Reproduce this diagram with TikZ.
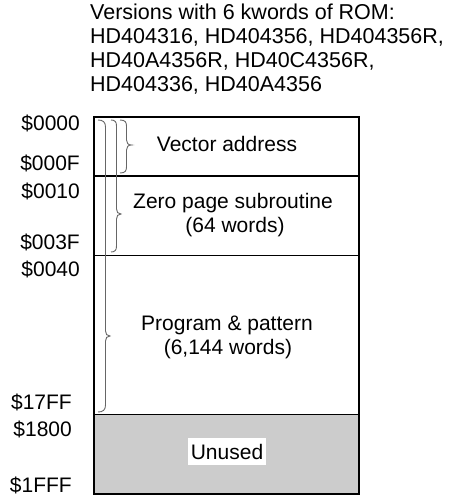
\documentclass[tikz,border=0pt]{standalone}
\usepackage{fontspec}
\setmainfont{Liberation Sans}
\begin{document}
\begin{tikzpicture}[x=1pt, y=-1pt,
  every node/.style={font=\fontsize{21}{24}\selectfont, inner sep=0pt},
  lbl/.style={anchor=base east},
  txt/.style={anchor=base},
  area/.style={draw=black, line width=1.2pt},
  brc/.style={draw=black!60, line width=0.9pt}]
  \useasboundingbox (0,0) rectangle (455,497);
  % header
  \foreach \t [count=\i] in {Versions with 6 kwords of ROM:,
      {HD404316, HD404356, HD404356R,}, {HD40A4356R, HD40C4356R,}, {HD404336, HD40A4356}}
    \node[anchor=base west, font=\fontsize{21.5}{24}\selectfont] (hd\i) at (90,{20+24*(\i-1)}) {\t};
  % memory map
  \fill[black!20] (94,414.5) rectangle (359,494);
  \draw[area] (94,117) rectangle (359,494);
  \draw[area] (94,176) -- (359,176);
  \draw[area] (94,255.5) -- (359,255.5);
  \draw[area] (94,414.5) -- (359,414.5);
  % braces
  \draw[brc] (98,120) .. controls (103,120) and (105.5,122) .. (105.5,127) -- (105.5,331)
    .. controls (105.5,334) and (107,336) .. (110,336) .. controls (107,336) and (105.5,338) .. (105.5,341)
    -- (105.5,405) .. controls (105.5,410) and (103,412) .. (98,412);
  \draw[brc] (111,120) .. controls (115,120) and (116.5,122) .. (116.5,126) -- (116.5,209)
    .. controls (116.5,212) and (118,214) .. (121,214) .. controls (118,214) and (116.5,216) .. (116.5,219)
    -- (116.5,246) .. controls (116.5,250) and (115,252) .. (111,252);
  \draw[brc] (120,120) .. controls (125,120) and (126.5,122) .. (126.5,126) -- (126.5,140)
    .. controls (126.5,143) and (128,145) .. (131.5,145) .. controls (128,145) and (126.5,147) .. (126.5,150)
    -- (126.5,167) .. controls (126.5,171) and (125,173) .. (120,173);
  % area texts
  \node[txt] (vec) at (227,152) {Vector address};
  \node[txt] (zp) at (233,208) {Zero page subroutine};
  \node[txt] (zpw) at (235,232) {(64 words)};
  \node[txt] (prg) at (227,330) {Program \& pattern};
  \node[txt] (prgw) at (228,354) {(6,144 words)};
  \node[txt, fill=white, inner xsep=3pt, inner ysep=6pt] (unu) at (227,459) {Unused};
  % addresses
  \node[lbl] (a0) at (80,131) {\$0000};
  \node[lbl] (a1) at (80,171) {\$000F};
  \node[lbl] (a2) at (80,198) {\$0010};
  \node[lbl] (a3) at (80,249) {\$003F};
  \node[lbl] (a4) at (80,276) {\$0040};
  \node[lbl] (a5) at (72,409) {\$17FF};
  \node[lbl] (a6) at (72,436) {\$1800};
  \node[lbl] (a7) at (72,492) {\$1FFF};
\end{tikzpicture}
\end{document}
